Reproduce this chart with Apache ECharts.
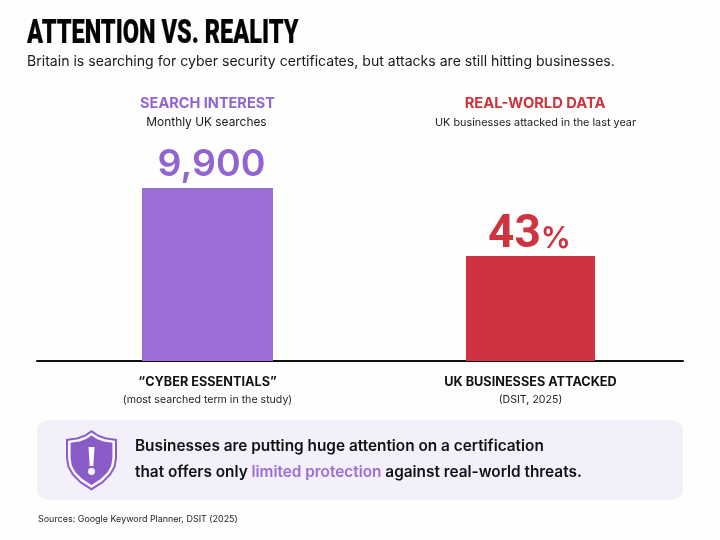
<!DOCTYPE html>
<html>
<head>
<meta charset="utf-8">
<style>html,body{margin:0;padding:0;background:#fff}#c{width:720px;height:540px}</style>
<script src="https://cdn.jsdelivr.net/npm/echarts@6/dist/echarts.min.js"></script>
</head>
<body>
<div id="c"></div>
<script>
const titleText = 'ATTENTION VS. REALITY';
const subtitleText = 'Britain is searching for cyber security certificates, but attacks are still hitting businesses.';
const leftCategory = ['“CYBER ESSENTIALS”'];
const leftCategoryNote = '(most searched term in the study)';
const rightCategory = ['UK BUSINESSES ATTACKED'];
const rightCategoryNote = '(DSIT, 2025)';
const leftValues = [9900];
const rightValues = [43];
const leftHeading = 'SEARCH INTEREST';
const leftSub = 'Monthly UK searches';
const rightHeading = 'REAL-WORLD DATA';
const rightSub = 'UK businesses attacked in the last year';
const calloutLine1 = 'Businesses are putting huge attention on a certification';
const calloutLine2 = ['that offers only ', 'limited protection', ' against real-world threats.'];
const sourceText = 'Sources: Google Keyword Planner, DSIT (2025)';

const PURPLE = '#9b6dd7', RED = '#cf333f', FONT = 'Inter';
const shieldOutline = [[91.5,430],[98,434.5],[106,437.5],[117,439],[117,458],[115.5,467],[111,475],[103,483],[91.5,490.5],[80,483],[72,475],[67.5,467],[66,458],[66,439],[77,437.5],[85,434.5]];
const shieldAt = (s) => shieldOutline.map(([x, y]) => [91.5 + (x - 91.5) * s, 460 + (y - 460) * s]);
const catLabel = (note) => ({
  show: true, margin: 12, interval: 0, fontFamily: FONT,
  formatter: (v) => `{a|${v}}\n{b|${note}}`,
  rich: {
    a: {fontFamily: FONT, fontSize: 12.7, fontWeight: 700, color: '#111', lineHeight: 19},
    b: {fontFamily: FONT, fontSize: 10.6, color: '#222', lineHeight: 15}
  }
});
const cat = (gi, data, note) => ({
  type: 'category', gridIndex: gi, data,
  axisTick: {show: false},
  axisLine: {show: true, onZero: false, lineStyle: {color: '#111', width: 2}},
  axisLabel: catLabel(note)
});
const val = (gi, max) => ({type: 'value', gridIndex: gi, min: 0, max, show: false, splitLine: {show: false}});

const chart = echarts.init(document.getElementById('c'), null, {renderer: 'canvas'});
chart.setOption({
  animation: false,
  backgroundColor: '#fefefd',
  grid: [
    {left: 37, width: 341, top: 151.3, height: 209.7},
    {left: 378, width: 305, top: 117, height: 244}
  ],
  xAxis: [cat(0, leftCategory, leftCategoryNote), cat(1, rightCategory, rightCategoryNote)],
  yAxis: [val(0, 12000), val(1, 100)],
  series: [
    {type: 'bar', xAxisIndex: 0, yAxisIndex: 0, data: leftValues, barWidth: 131, z: 1,
     itemStyle: {color: PURPLE},
     label: {show: true, position: 'top', distance: 3, offset: [4, -1], fontFamily: FONT, fontSize: 37.5, fontWeight: 600, color: '#9264cf',
       formatter: (p) => p.value.toLocaleString('en-US')}},
    {type: 'bar', xAxisIndex: 1, yAxisIndex: 1, data: rightValues, barWidth: 129, z: 1,
     itemStyle: {color: RED},
     label: {show: true, position: 'top', distance: 1, offset: [-1, 3], color: RED,
       formatter: (p) => `{n|${p.value}}{p|%}`,
       rich: {
         n: {fontFamily: 'Roboto', fontSize: 46, fontWeight: 700, color: RED},
         p: {fontFamily: FONT, fontSize: 30, fontWeight: 600, color: RED, padding: [8, 0, 0, 0]}
       }}}
  ],
  graphic: [
    {type: 'text', x: 27, y: 18, z: 5, scaleX: 0.713,
     style: {text: titleText, font: '900 33px Roboto', fill: '#050505', stroke: '#050505', lineWidth: 0.2}},
    {type: 'text', x: 27, y: 55, z: 5,
     style: {text: subtitleText, font: '400 14.08px Inter', fill: '#1a1a1a'}},
    {type: 'text', x: 207.5, y: 96, z: 5,
     style: {text: leftHeading, font: '700 14.5px Inter', fill: '#9264cf', align: 'center'}},
    {type: 'text', x: 206.5, y: 116, z: 5,
     style: {text: leftSub, font: '400 11.9px Inter', fill: '#1a1a1a', align: 'center'}},
    {type: 'text', x: 535, y: 96, z: 5,
     style: {text: rightHeading, font: '700 14.7px Inter', fill: RED, align: 'center'}},
    {type: 'text', x: 535.5, y: 117, z: 5,
     style: {text: rightSub, font: '400 10.85px Inter', fill: '#1a1a1a', align: 'center'}},
    {type: 'rect', z: 0, shape: {x: 37, y: 420, width: 646, height: 80, r: 12}, style: {fill: '#f3effb'}},
    {type: 'polygon', z: 5, shape: {points: shieldAt(1)}, style: {fill: '#8a5cc8'}},
    {type: 'polygon', z: 6, shape: {points: shieldAt(0.92)}, style: {fill: '#fbf9fe'}},
    {type: 'polygon', z: 7, shape: {points: shieldAt(0.82)}, style: {fill: '#8a5cc8'}},
    {type: 'polygon', z: 8, shape: {points: [[88.5,447],[94.5,447],[93.3,466],[89.7,466]]}, style: {fill: '#fff'}},
    {type: 'circle', z: 8, shape: {cx: 91.5, cy: 471.5, r: 3.4}, style: {fill: '#fff'}},
    {type: 'text', x: 135, y: 439, z: 5,
     style: {text: calloutLine1, font: '600 15.36px Inter', fill: '#111'}},
    {type: 'text', x: 135, y: 465, z: 5,
     style: {
       text: `{d|${calloutLine2[0]}}{h|${calloutLine2[1]}}{d|${calloutLine2[2]}}`,
       rich: {
         d: {font: '600 15.36px Inter', fill: '#111'},
         h: {font: '600 15.36px Inter', fill: '#9b6dd7'}
       }}},
    {type: 'text', x: 38, y: 515, z: 5,
     style: {text: sourceText, font: '400 8.95px Inter', fill: '#222'}}
  ]
});
</script>
</body>
</html>
